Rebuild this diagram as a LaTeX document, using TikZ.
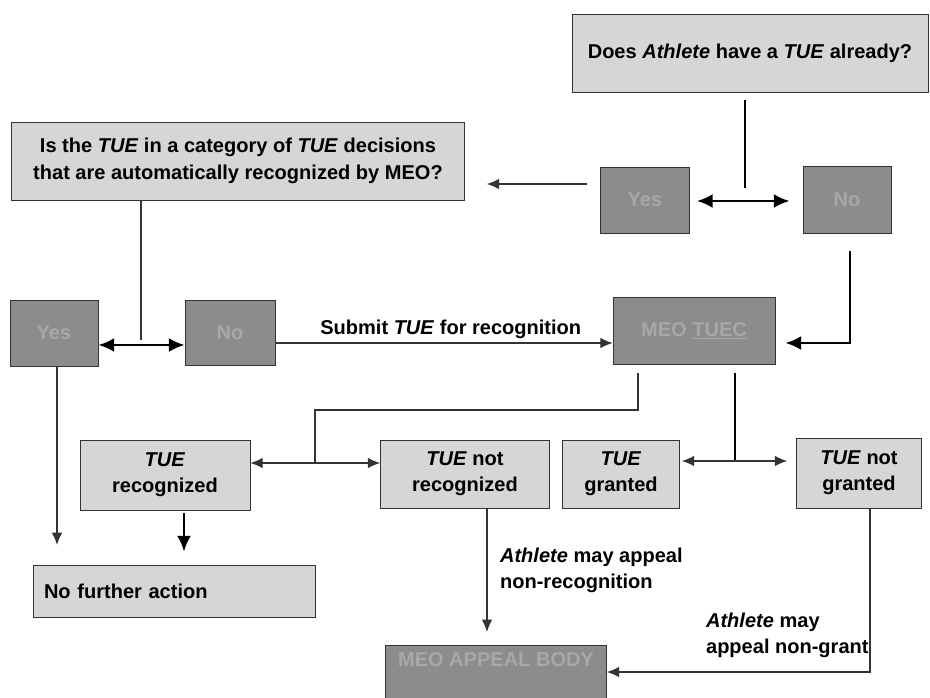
\documentclass[tikz,border=0pt]{standalone}
\usepackage{fontspec}
\setmainfont{Liberation Sans}
\usetikzlibrary{arrows.meta}

\definecolor{boxlight}{gray}{0.84}
\definecolor{boxdark}{gray}{0.55}
\definecolor{textdark}{gray}{0.66}

\newcommand{\ath}{\textit{Athlete}}
\newcommand{\tue}{\textit{TUE}}

\begin{document}
\begin{tikzpicture}[x=0.02cm,y=-0.02cm,
		font=\bfseries\fontsize{11.4}{15}\selectfont,
		lbox/.style={draw=black!80, fill=boxlight, align=center, inner sep=2pt},
		dbox/.style={draw=black!80, fill=boxdark, text=textdark, align=center, inner sep=2pt},
		lbl/.style={align=left, inner sep=1pt},
		thn/.style={draw=black!80, line width=0.7pt},
		thk/.style={draw=black, line width=1.6pt},
		tip/.style={-{Latex[length=7pt,width=6pt]}},
		dtip/.style={{Latex[length=7pt,width=6pt]}-{Latex[length=7pt,width=6pt]}},
		btip/.style={-{Latex[length=9pt,width=8pt]}},
		bdtip/.style={{Latex[length=9pt,width=8pt]}-{Latex[length=9pt,width=8pt]}}]
	\useasboundingbox (0,0) rectangle (930,697);

	% boxes
	\node[lbox, minimum width=7.12cm, minimum height=1.56cm] (q1) at (750,53)
		{Does \ath{} have a \tue{} already?};
	\node[dbox, minimum width=1.78cm, minimum height=1.32cm] (yes1) at (645,200) {Yes};
	\node[dbox, minimum width=1.76cm, minimum height=1.34cm] (no1) at (847,200) {No};
	\node[lbox, minimum width=9.06cm, minimum height=1.56cm] (q2) at (238,161)
		{Is the \tue{} in a category of \tue{} decisions\\that are automatically recognized by MEO?};
	\node[dbox, minimum width=1.76cm, minimum height=1.32cm] (yes2) at (54,333) {Yes};
	\node[dbox, minimum width=1.8cm, minimum height=1.3cm] (no2) at (230,333) {No};
	\node[dbox, minimum width=3.24cm, minimum height=1.34cm] (tuec) at (694,331) {MEO \underline{TUEC}};
	\node[lbox, minimum width=3.4cm, minimum height=1.4cm] (rec) at (165,475) {\tue\\recognized};
	\node[lbox, minimum width=3.38cm, minimum height=1.36cm] (notrec) at (465,474) {\tue{} not\\recognized};
	\node[lbox, minimum width=2.34cm, minimum height=1.36cm] (granted) at (621,474) {\tue\\granted};
	\node[lbox, minimum width=2.5cm, minimum height=1.4cm] (notgranted) at (859,473) {\tue{} not\\granted};
	\node[lbox, minimum width=5.64cm, minimum height=1.04cm, text width=5.2cm, align=left] (nofurther) at (174,591)
		{No further action};
	\node[dbox, minimum width=4.42cm, text height=0.36cm, text depth=0.9cm, anchor=north] (appeal) at (496,645)
		{MEO APPEAL BODY};

	% junctions
	\coordinate (q1b) at (745,188);
	\coordinate (q1j) at (745,201);
	\coordinate (yq) at (0,184);
	\coordinate (q2j) at (141,340);
	\coordinate (yn2) at (0,345);
	\coordinate (sub) at (0,343);
	\coordinate (n1) at (850,343);
	\coordinate (t1) at (638,410);
	\coordinate (t2) at (315,463);
	\coordinate (t3) at (735,461);
	\coordinate (y2d) at (57,545);
	\coordinate (r1) at (184,0);
	\coordinate (a1) at (487,0);
	\coordinate (a2) at (870,672);

	% connectors
	\draw[thk, shorten <=0.16cm] (q1.south -| q1b) -- (q1b);
	\draw[thk, bdtip, shorten <=0.14cm, shorten >=0.26cm] (yes1.east |- q1j) -- (no1.west |- q1j);
	\draw[thn, tip, shorten <=0.26cm, shorten >=0.44cm] (yes1.west |- yq) -- (q2.east |- yq);
	\draw[thn] (q2.south -| q2j) -- (q2j);
	\draw[thk, bdtip] (yes2.east |- yn2) -- (no2.west |- yn2);
	\draw[thn, tip] (no2.east |- sub) -- node[above, pos=0.52, inner sep=2pt] (sublbl)
		{Submit \tue{} for recognition} (tuec.west |- sub);
	\draw[thk, btip, shorten <=0.34cm, shorten >=0.2cm] (no1.south -| n1) |- (tuec.east |- n1);
	\draw[thn, shorten <=0.16cm] (tuec.south -| t1) -- (t1) -| (t2);
	\draw[thn, dtip] (rec.east |- t2) -- (notrec.west |- t2);
	\draw[thk, shorten <=0.16cm] (tuec.south -| t3) -- (t3);
	\draw[thn, dtip, shorten <=0.04cm, shorten >=0.18cm] (granted.east |- t3) -- (notgranted.west |- t3);
	\draw[thn, tip] (yes2.south -| y2d) -- (y2d);
	\draw[thk, btip, shorten <=0.06cm, shorten >=0.26cm] (rec.south -| r1) -- (nofurther.north -| r1);
	\draw[thn, tip, shorten >=0.26cm] (notrec.south -| a1) -- (appeal.north -| a1);
	\draw[thn, tip] (notgranted.south -| a2) |- (appeal.east |- a2);

	% labels
	\node[lbl, anchor=north west] (appl1) at (498,546) {\ath{} may appeal\\non-recognition};
	\node[lbl, anchor=south west] (appl2) at (704,660) {\ath{} may\\appeal non-grant};
\end{tikzpicture}
\end{document}
